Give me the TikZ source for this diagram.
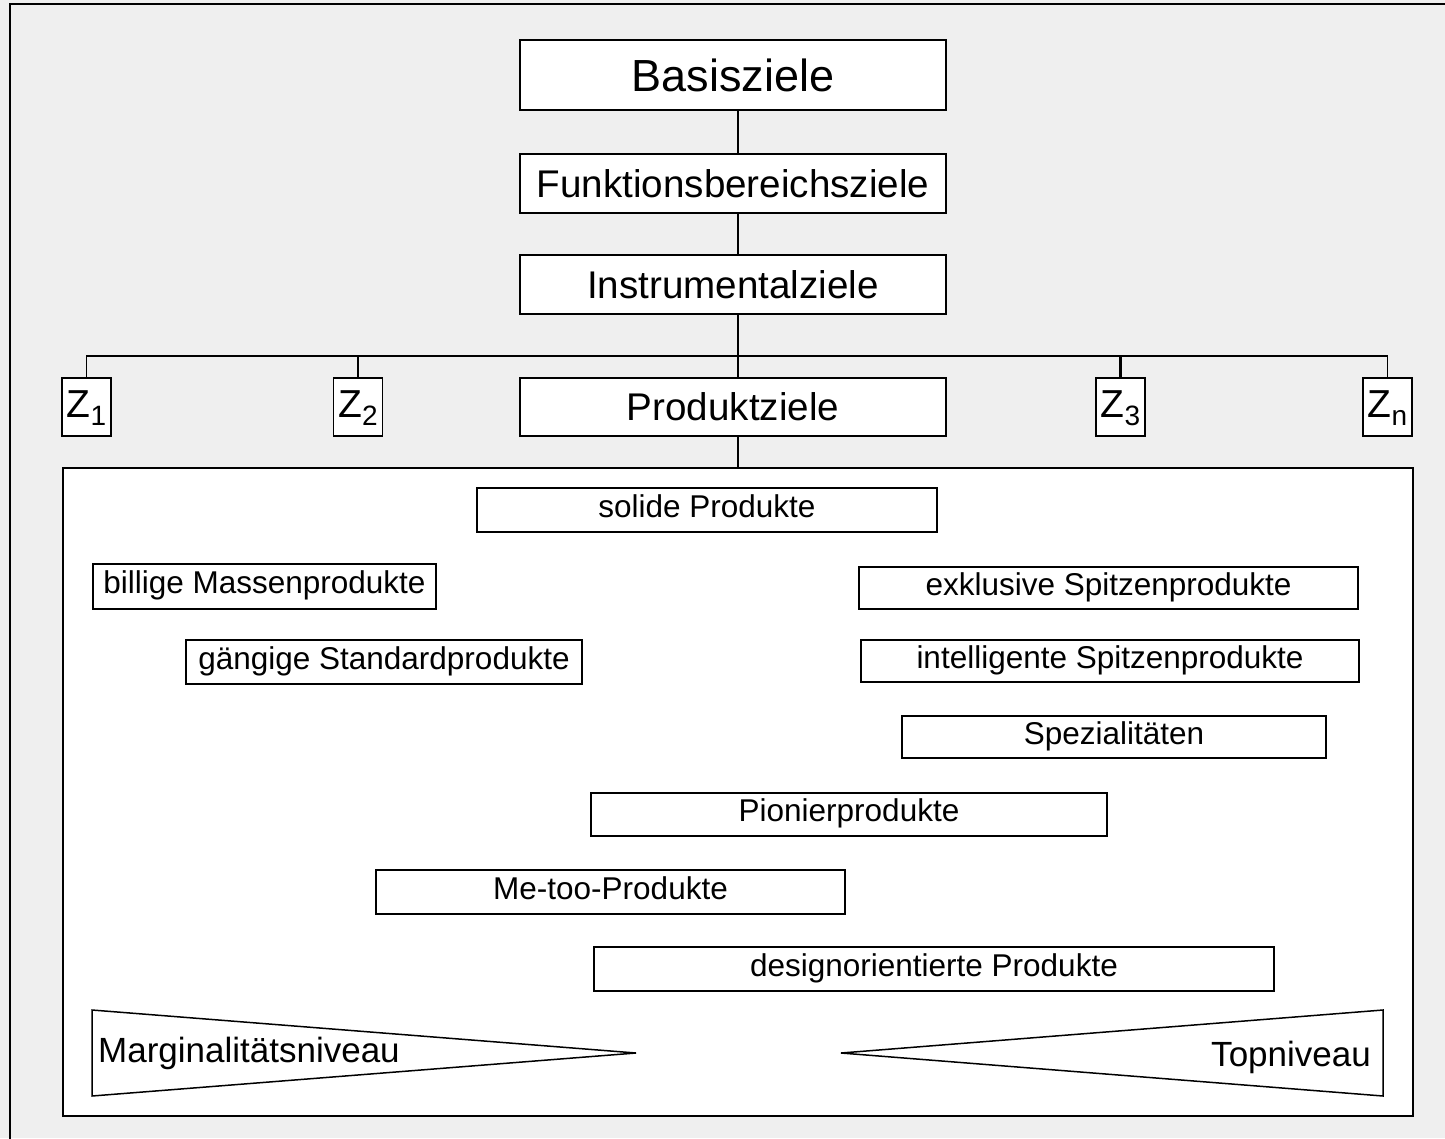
\documentclass[tikz,border=0pt]{standalone}
\usepackage{fontspec}
\setmainfont{Liberation Sans}
\newcommand\fsz[1]{\fontsize{#1pt}{#1pt}\selectfont}
\definecolor{bggray}{RGB}{239,239,239}
\begin{document}
\begin{tikzpicture}[x=1pt,y=-1pt]
\tikzset{
 frame/.style={draw, line width=1.5pt, fill=white, inner sep=0pt, align=center},
 topbox/.style={frame, minimum width=426pt, font=\fsz{38.6}, text height=27.6pt, text depth=0pt},
 zbox/.style={frame, minimum width=49pt, minimum height=58pt, font=\fsz{39}, text height=28pt, text depth=8pt},
 pbox/.style={frame, font=\fsz{31.5}, text height=22.6pt, text depth=8pt},
 link/.style={line width=1.5pt},
 thicklink/.style={line width=2.5pt},
 tri/.style={draw, fill=white, line width=1.5pt, line join=miter},
 trilabel/.style={font=\fsz{35}, inner sep=0pt}
}
\useasboundingbox (0,0) rectangle (1445,1138);
\fill[bggray] (0,0) rectangle (1445,1138);
\draw[line width=2pt] (10,1140) -- (10,4) -- (1447,4);

% hierarchy
\node[topbox, minimum height=70pt, font=\fsz{45}, text height=32.2pt] (basis) at (733,75) {Basisziele};
\node[topbox, minimum height=59pt] (funk) at (733,183.5) {Funktionsbereichsziele};
\node[topbox, minimum height=59pt] (instr) at (733,284.5) {Instrumentalziele};
\node[topbox, minimum height=58pt] (prod) at (733,407) {Produktziele};

\node[zbox] (z1) at (86.5,407) {Z\raisebox{-8pt}{\fsz{28}1}};
\node[zbox] (z2) at (358,407) {Z\raisebox{-8pt}{\fsz{28}2}};
\node[zbox] (z3) at (1120.5,407) {Z\raisebox{-8pt}{\fsz{28}3}};
\node[zbox] (zn) at (1387.5,407) {Z\raisebox{-8pt}{\fsz{28}n}};

\node[draw, fill=white, line width=1.5pt, inner sep=0pt, minimum width=1350pt, minimum height=648pt] (panel) at (738,792) {};

\coordinate (trunk) at (738,0);
\coordinate (bar) at (0,356);
\draw[link] (basis.south -| trunk) -- (funk.north -| trunk);
\draw[link] (funk.south -| trunk) -- (instr.north -| trunk);
\draw[thicklink] (instr.south -| trunk) -- (prod.north -| trunk);
\draw[thicklink] (prod.south -| trunk) -- (panel.north -| trunk);
\draw[link] (z1.north) -- (z1.north |- bar) -- (zn.north |- bar) -- (zn.north);
\draw[thicklink] (z2.north) -- (z2.north |- bar);
\draw[thicklink] (z3.north) -- (z3.north |- bar);

% product types
\node[pbox, minimum width=460pt, minimum height=44pt] (solide) at (707,510) {solide Produkte};
\node[pbox, minimum width=343pt, minimum height=45pt] (billig) at (264.5,586.5) {billige Massenprodukte};
\node[pbox, minimum width=396pt, minimum height=44pt] (gaengig) at (384,662) {gängige Standardprodukte};
\node[pbox, minimum width=499pt, minimum height=42pt] (exkl) at (1108.5,588) {exklusive Spitzenprodukte};
\node[pbox, minimum width=498pt, minimum height=42pt] (intel) at (1110,661) {intelligente Spitzenprodukte};
\node[pbox, minimum width=424pt, minimum height=42pt] (spez) at (1114,737) {Spezialitäten};
\node[pbox, minimum width=516pt, minimum height=43pt] (pion) at (849,814.5) {Pionierprodukte};
\node[pbox, minimum width=469pt, minimum height=44pt] (metoo) at (610.5,892) {Me-too-Produkte};
\node[pbox, minimum width=680pt, minimum height=44pt] (design) at (934,969) {designorientierte Produkte};

% level wedges
\draw[tri] (92,1010) -- (636,1053) -- (92,1096) -- cycle;
\draw[tri] (1383,1010) -- (841,1053) -- (1383,1096) -- cycle;
\node[trilabel, anchor=base west] (marg) at (98,1062) {Marginalitätsniveau};
\node[trilabel, anchor=base east] (top) at (1371,1066) {Topniveau};
\end{tikzpicture}
\end{document}
